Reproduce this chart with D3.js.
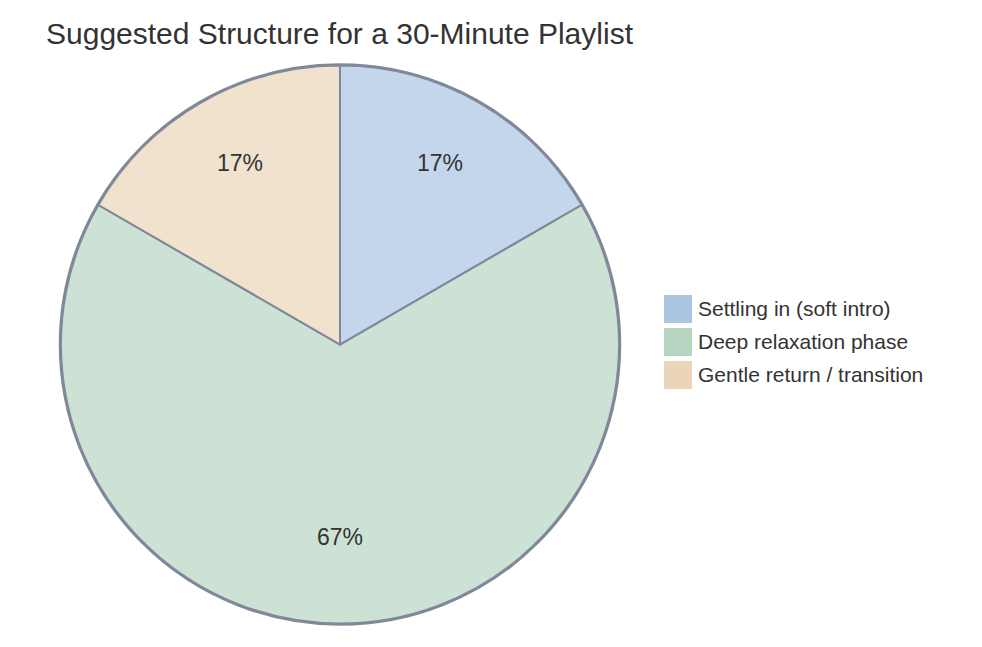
<!DOCTYPE html>
<html>
<head>
<meta charset="utf-8">
<script src="https://cdn.jsdelivr.net/npm/d3@7.9.0/dist/d3.min.js"></script>
<style>
  body { margin: 0; background: #fff; }
  svg text { font-family: "Liberation Sans", Arial, sans-serif; fill: #333; }
</style>
</head>
<body>
<svg id="chart" width="982" height="647"></svg>
<script>
// chart data (minutes out of 30)
const title = "Suggested Structure for a 30-Minute Playlist";
const labels = ["Settling in (soft intro)", "Deep relaxation phase", "Gentle return / transition"];
const minutes = [5, 20, 5];
const colors = ["#a9c5e2", "#b7d6c2", "#ebd5b9"];

const svg = d3.select("#chart");
const cx = 340, cy = 344.5, radius = 279;

// title
svg.append("text")
    .attr("x", 46)
    .attr("y", 44)
    .attr("font-size", 30)
    .text(title);

const g = svg.append("g").attr("transform", `translate(${cx},${cy})`);

const pie = d3.pie().value((d) => d).sort(null);
const arcs = pie(minutes);
const arcGen = d3.arc().innerRadius(0).outerRadius(radius);
const labelArc = d3.arc().innerRadius(radius * 0.717).outerRadius(radius * 0.717);
const total = d3.sum(minutes);

// outer ring
g.append("circle")
    .attr("r", radius + 1)
    .attr("fill", "none")
    .attr("stroke", "#80889a")
    .attr("stroke-width", 2.5);

// slices
g.selectAll("path.slice")
    .data(arcs)
    .join("path")
    .attr("class", "slice")
    .attr("d", arcGen)
    .attr("fill", (d, i) => colors[i])
    .attr("fill-opacity", 0.7)
    .attr("stroke", "#80889a")
    .attr("stroke-width", 2);

// percent labels
g.selectAll("text.pct")
    .data(arcs)
    .join("text")
    .attr("class", "pct")
    .attr("transform", (d) => `translate(${labelArc.centroid(d)})`)
    .attr("text-anchor", "middle")
    .attr("font-size", 23)
    .text((d) => `${Math.round(d.value / total * 100)}%`);

// legend
const legend = svg.append("g").attr("transform", "translate(664,295)");
labels.forEach((lab, i) => {
    const row = legend.append("g").attr("transform", `translate(0,${i * 33})`);
    row.append("rect")
        .attr("width", 28)
        .attr("height", 28)
        .attr("fill", colors[i]);
    row.append("text")
        .attr("x", 34)
        .attr("y", 21)
        .attr("font-size", 21)
        .text(lab);
});
</script>
</body>
</html>
